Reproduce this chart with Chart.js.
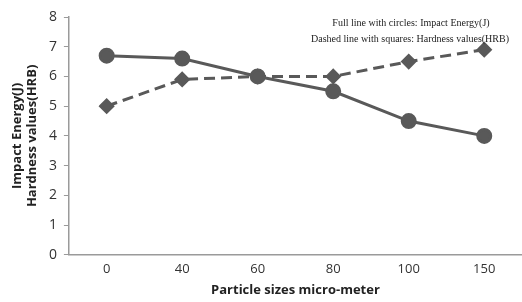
<!DOCTYPE html>
<html>
<head>
<meta charset="utf-8">
<script src="https://cdn.jsdelivr.net/npm/chart.js@4/dist/chart.umd.min.js"></script>
<style>
  html, body { margin: 0; padding: 0; background: #fff; }
  #wrap { width: 522px; height: 302px; position: relative; }
</style>
</head>
<body>
<div id="wrap"><canvas id="c"></canvas></div>
<script>
const sizes = ['0', '40', '60', '80', '100', '150'];
const impactEnergy = [6.7, 6.6, 6.0, 5.5, 4.5, 4.0];
const hardness = [5.0, 5.9, 6.0, 6.0, 6.5, 6.9];
const legendLines = [
  'Full line with circles: Impact Energy(J)',
  'Dashed line with squares: Hardness values(HRB)'
];

const lineColor = '#595959';
const axisColor = '#9a9a9a';

// legend note in the top right corner, plain text like the original
const notePlugin = {
  id: 'note',
  afterDraw(chart) {
    const ctx = chart.ctx;
    ctx.save();
    ctx.font = '10px "Liberation Serif", serif';
    ctx.fillStyle = '#222';
    ctx.textAlign = 'center';
    ctx.textBaseline = 'middle';
    ctx.fillText(legendLines[0], 411, 23);
    ctx.fillText(legendLines[1], 410, 39);
    ctx.restore();
  }
};

new Chart(document.getElementById('c'), {
  type: 'line',
  data: {
    labels: sizes,
    datasets: [
      {
        label: 'Impact Energy(J)',
        data: impactEnergy,
        borderColor: lineColor,
        backgroundColor: lineColor,
        borderWidth: 3,
        pointStyle: 'circle',
        pointRadius: 6.5,
        pointHoverRadius: 6.5,
        tension: 0
      },
      {
        label: 'Hardness values(HRB)',
        data: hardness,
        borderColor: lineColor,
        backgroundColor: lineColor,
        borderWidth: 3,
        borderDash: [11, 6],
        pointStyle: 'rectRot',
        pointRadius: 6,
        pointHoverRadius: 6,
        tension: 0
      }
    ]
  },
  options: {
    responsive: true,
    maintainAspectRatio: false,
    animation: false,
    layout: { autoPadding: false, padding: { top: 17, right: 0, left: 10, bottom: 4 } },
    plugins: {
      legend: { display: false },
      tooltip: { enabled: false }
    },
    scales: {
      x: {
        offset: true,
        grid: { display: false, drawTicks: false },
        border: { color: axisColor, width: 1.5 },
        ticks: { color: '#333', font: { family: 'Open Sans', size: 13 }, padding: 7 },
        title: {
          display: true,
          text: 'Particle sizes micro-meter',
          color: '#222',
          font: { family: 'Open Sans', size: 13, weight: 'bold' },
          padding: { top: -2, bottom: 0 }
        }
      },
      y: {
        min: 0,
        max: 8,
        ticks: { stepSize: 1, color: '#333', font: { family: 'Open Sans', size: 14 }, padding: 7 },
        grid: { drawOnChartArea: false, drawTicks: true, tickLength: 5, color: axisColor },
        border: { color: axisColor, width: 1.5 },
        title: {
          display: true,
          text: ['Impact Energy(J)', 'Hardness values(HRB)'],
          color: '#222',
          font: { family: 'Open Sans', size: 13, weight: 'bold', lineHeight: 1.15 },
          padding: { top: 0, bottom: 2 }
        }
      }
    }
  },
  plugins: [notePlugin]
});
</script>
</body>
</html>
